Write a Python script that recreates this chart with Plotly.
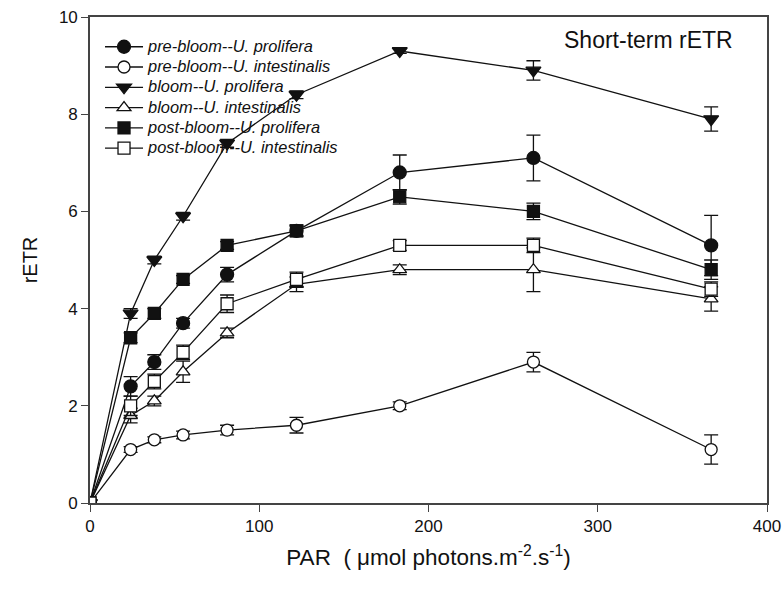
import plotly.graph_objects as go

# PAR levels of the rapid light curve (µmol photons m-2 s-1)
par = [0, 24, 38, 55, 81, 122, 183, 262, 367]

series_names = [
    "pre-bloom--U. prolifera",
    "pre-bloom--U. intestinalis",
    "bloom--U. prolifera",
    "bloom--U. intestinalis",
    "post-bloom--U. prolifera",
    "post-bloom--U. intestinalis",
]

pre_prolifera = [0, 2.4, 2.9, 3.7, 4.7, 5.6, 6.8, 7.1, 5.3]
pre_prolifera_err = [0, 0.2, 0.15, 0.1, 0.15, 0.1, 0.36, 0.47, 0.62]

pre_intestinalis = [0, 1.1, 1.3, 1.4, 1.5, 1.6, 2.0, 2.9, 1.1]
pre_intestinalis_err = [0, 0.06, 0.06, 0.08, 0.1, 0.16, 0.08, 0.2, 0.3]

bloom_prolifera = [0, 3.9, 5.0, 5.9, 7.4, 8.4, 9.3, 8.9, 7.9]
bloom_prolifera_err = [0, 0.1, 0.08, 0.08, 0.08, 0.08, 0.05, 0.2, 0.25]

bloom_intestinalis = [0, 1.8, 2.1, 2.7, 3.5, 4.5, 4.8, 4.8, 4.2]
bloom_intestinalis_err = [0, 0.15, 0.1, 0.22, 0.1, 0.15, 0.1, 0.45, 0.25]

post_prolifera = [0, 3.4, 3.9, 4.6, 5.3, 5.6, 6.3, 6.0, 4.8]
post_prolifera_err = [0, 0.1, 0.1, 0.08, 0.08, 0.12, 0.15, 0.17, 0.2]

post_intestinalis = [0, 2.0, 2.5, 3.1, 4.1, 4.6, 5.3, 5.3, 4.4]
post_intestinalis_err = [0, 0.2, 0.15, 0.15, 0.18, 0.15, 0.1, 0.15, 0.15]

values = [pre_prolifera, pre_intestinalis, bloom_prolifera,
          bloom_intestinalis, post_prolifera, post_intestinalis]
errors = [pre_prolifera_err, pre_intestinalis_err, bloom_prolifera_err,
          bloom_intestinalis_err, post_prolifera_err, post_intestinalis_err]

symbols = ["circle", "circle-open", "triangle-down", "triangle-up-open",
           "square", "square-open"]
sizes = [13, 12, 13, 12, 12, 12]

x_ticks = [0, 100, 200, 300, 400]
y_ticks = [0, 2, 4, 6, 8, 10]

FONT = "Liberation Sans, Arial, sans-serif"
INK = "#111111"

fig = go.Figure()
for name, y, err, sym, sz in zip(series_names, values, errors, symbols, sizes):
    is_open = sym.endswith("open")
    fig.add_trace(go.Scatter(
        x=par, y=y,
        # larger italic label text while keeping legend rows compact
        name='<span style="font-size:16.4px"><i>' + name + '</i></span>',
        mode="lines+markers",
        line=dict(color=INK, width=1.3),
        marker=dict(
            symbol=sym.replace("-open", "") if is_open else sym,
            size=sz,
            color="white" if is_open else INK,
            line=dict(color=INK, width=1.3),
        ),
        error_y=dict(type="data", array=err, visible=True,
                     color=INK, thickness=1.3, width=7),
    ))

fig.add_annotation(
    text="Short-term rETR", xref="paper", yref="paper",
    x=0.953, y=0.953, xanchor="right", yanchor="middle", showarrow=False,
    font=dict(family=FONT, size=23, color=INK),
)

axis_common = dict(
    showline=True, linecolor="#444444", linewidth=1.6, mirror=True,
    ticks="outside", ticklen=7, tickwidth=1.4, tickcolor="#444444",
    showgrid=False, zeroline=False, automargin=False,
    tickfont=dict(family=FONT, size=17, color=INK),
)

fig.update_layout(
    width=782, height=589,
    margin=dict(l=90, r=15, t=17, b=86),
    paper_bgcolor="white", plot_bgcolor="white",
    font=dict(family=FONT, color=INK),
    showlegend=True,
    legend=dict(
        x=0.0148, y=0.97, xanchor="left", yanchor="top",
        bgcolor="rgba(0,0,0,0)", borderwidth=0,
        font=dict(family=FONT, size=13.3, color=INK),
        tracegroupgap=0, itemsizing="trace", itemwidth=38,
    ),
    xaxis=dict(
        range=[0, 400], tickvals=x_ticks,
        title=dict(text="PAR  ( \u03bcmol photons.m<sup>-2</sup>.s<sup>-1</sup>)",
                   font=dict(family=FONT, size=22.5, color=INK), standoff=14),
        **axis_common,
    ),
    yaxis=dict(
        range=[0, 10], tickvals=y_ticks,
        title=dict(text="rETR", font=dict(family=FONT, size=20, color=INK),
                   standoff=16),
        **axis_common,
    ),
)

fig.write_html("out.html")
